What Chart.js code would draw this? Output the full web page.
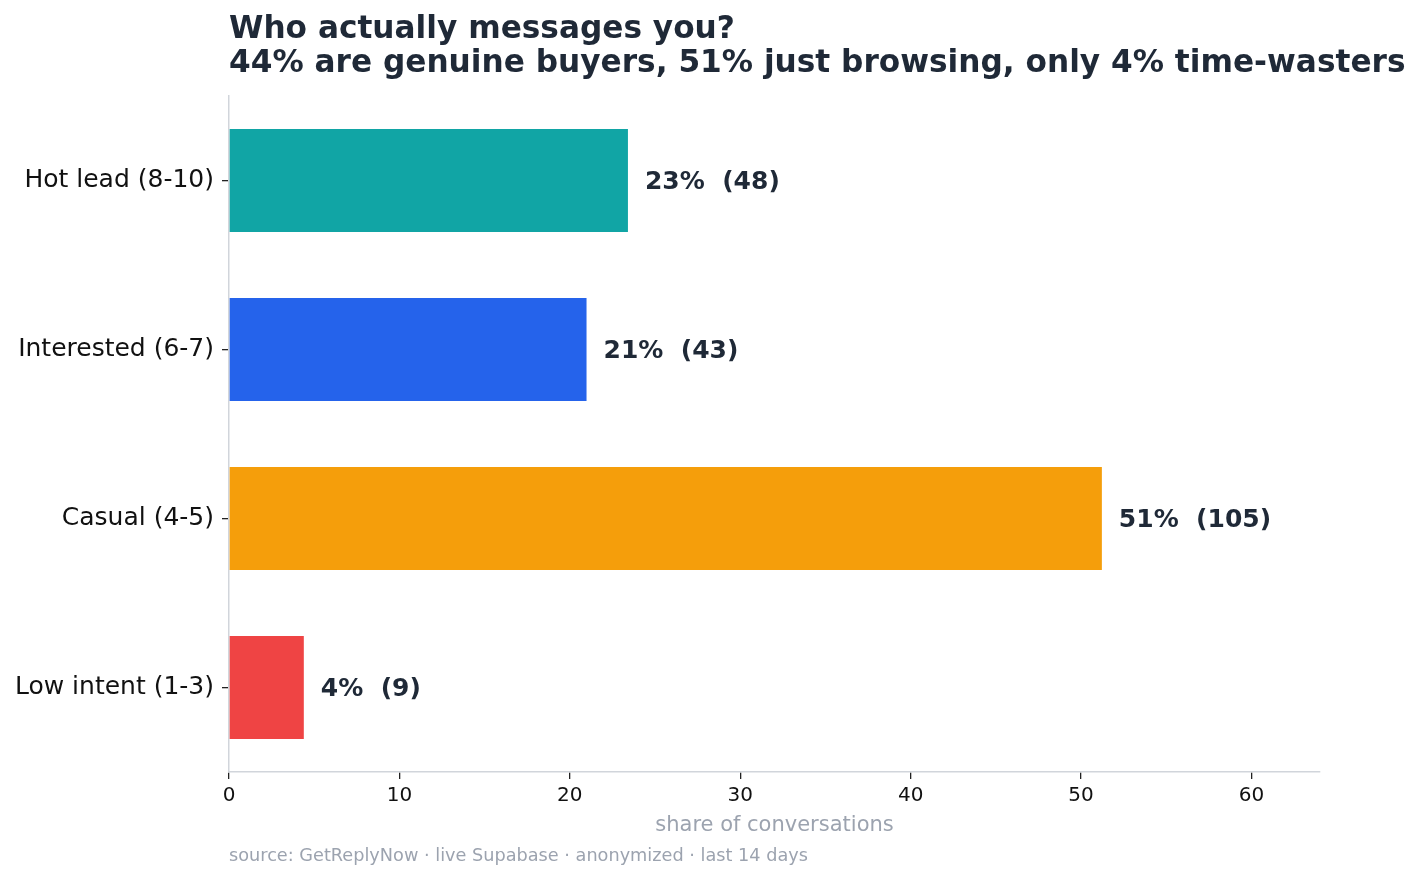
<!DOCTYPE html>
<html>
<head>
<meta charset="utf-8">
<style>
  html, body { margin: 0; padding: 0; background: #ffffff; }
  #wrap { width: 1423px; height: 880px; position: relative; }
</style>
<script src="https://cdn.jsdelivr.net/npm/chart.js@4.4.1/dist/chart.umd.min.js"></script>
</head>
<body>
<div id="wrap"><canvas id="c" width="1423" height="880"></canvas></div>
<script>
const categories = ["Hot lead (8-10)", "Interested (6-7)", "Casual (4-5)", "Low intent (1-3)"];
const shares = [23.41, 20.98, 51.22, 4.39];
const counts = [48, 43, 105, 9];
const barColors = ["#11a5a5", "#2563eb", "#f59e0b", "#ef4444"];
const xTicks = [0, 10, 20, 30, 40, 50, 60];
const xMax = 64.02;
const titleLines = ["Who actually messages you?", "44% are genuine buyers, 51% just browsing, only 4% time-wasters"];
const xTitle = "share of conversations";
const sourceText = "source: GetReplyNow \u00b7 live Supabase \u00b7 anonymized \u00b7 last 14 days";

const FONT = "'DejaVu Sans', sans-serif";

const overlay = {
  id: 'overlay',
  afterDraw(chart) {
    const ctx = chart.ctx;
    const area = chart.chartArea;
    ctx.save();
    // title
    ctx.fillStyle = '#1f2937';
    ctx.font = "bold 31.2px " + FONT;
    ctx.textAlign = 'left';
    ctx.textBaseline = 'alphabetic';
    ctx.fillText(titleLines[0], area.left, 38);
    ctx.fillText(titleLines[1], area.left, 72);
    // bar labels
    const meta = chart.getDatasetMeta(0);
    ctx.font = "bold 25px " + FONT;
    ctx.textBaseline = 'middle';
    meta.data.forEach((bar, i) => {
      const txt = Math.round(shares[i]) + "%  (" + counts[i] + ")";
      ctx.fillText(txt, bar.x + 17, bar.y + 1.5);
    });
    // x axis title
    ctx.fillStyle = '#9ca3af';
    ctx.font = "21px " + FONT;
    ctx.textAlign = 'center';
    ctx.fillText(xTitle, (area.left + area.right) / 2, 826);
    // source
    ctx.font = "17.7px " + FONT;
    ctx.textAlign = 'left';
    ctx.fillText(sourceText, area.left, 856);
    ctx.restore();
  }
};

new Chart(document.getElementById('c'), {
  type: 'bar',
  data: {
    labels: categories,
    datasets: [{
      data: shares,
      backgroundColor: barColors,
      borderWidth: 0,
      barPercentage: 0.61,
      categoryPercentage: 1.0
    }]
  },
  options: {
    indexAxis: 'y',
    responsive: false,
    animation: false,
    devicePixelRatio: 1,
    layout: { padding: { top: 96, right: 103, left: 0, bottom: 0 } },
    plugins: { legend: { display: false }, tooltip: { enabled: false }, title: { display: false } },
    scales: {
      x: {
        type: 'linear',
        min: 0,
        max: xMax,
        afterBuildTicks(scale) { scale.ticks = xTicks.map(v => ({ value: v })); },
        afterFit(scale) { scale.height = 108; },
        grid: { drawOnChartArea: false, drawTicks: true, tickLength: 7, color: '#222222', lineWidth: 1.3 },
        border: { display: true, color: '#d1d5db', width: 1.5 },
        ticks: { color: '#111111', font: { family: FONT, size: 20 }, padding: 5, maxRotation: 0 }
      },
      y: {
        afterFit(scale) { scale.width = 229; },
        grid: { offset: false, drawOnChartArea: false, drawTicks: true, tickLength: 7, color: '#222222', lineWidth: 1.3 },
        border: { display: true, color: '#d1d5db', width: 1.5 },
        ticks: { color: '#111111', font: { family: FONT, size: 25 }, padding: 8 }
      }
    }
  },
  plugins: [overlay]
});
</script>
</body>
</html>
